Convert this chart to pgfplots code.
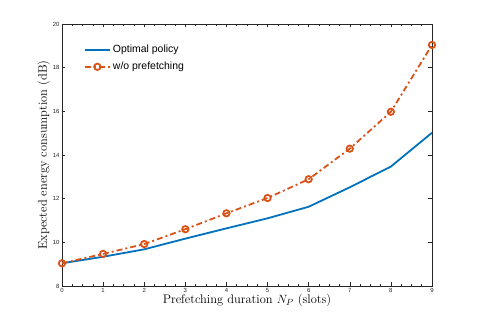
\documentclass[border=0pt]{standalone}
\usepackage{pgfplots}
\pgfplotsset{compat=1.18}
\usepackage{fontspec}
\setmainfont{Latin Modern Roman}
\newfontfamily\helv{Liberation Sans}
\definecolor{mblue}{rgb}{0,0.447,0.741}
\definecolor{morange}{rgb}{0.85,0.325,0.098}
\definecolor{axgray}{rgb}{0.15,0.15,0.15}
\begin{document}
\begin{tikzpicture}
\path[use as bounding box] (-62bp,-36bp) rectangle (416bp,286bp);
\begin{axis}[
    at={(0,0)}, anchor=origin,
    scale only axis,
    width=370bp, height=262bp,
    xmin=0, xmax=9, ymin=8, ymax=20,
    xtick={0,...,9}, ytick={8,10,...,20},
    minor x tick num=3,
    tick align=inside,
    major tick length=3.5bp, minor tick length=2bp,
    axis line style={axgray, line width=0.6pt},
    every tick/.style={axgray, line width=0.5pt},
    tick label style={font=\helv\fontsize{6}{7}\selectfont, text=axgray},
    /pgf/number format/assume math mode=true,
    xticklabel style={yshift=1bp},
    yticklabel style={xshift=1bp},
    xlabel={Prefetching duration $N_P$ (slots)},
    ylabel={Expected energy consumption (dB)},
    label style={font=\fontsize{12.5}{14}\selectfont},
    xlabel style={yshift=5bp},
    ylabel style={yshift=-4bp},
    legend style={draw=none, fill=none, at={(0.05,0.935)}, anchor=north west,
        font=\helv\fontsize{10.5}{12}\selectfont, row sep=4bp},
    legend cell align=left,
    legend image code/.code={
        \draw[#1] (0cm,0cm) -- (0.9cm,0cm);
        \draw[#1, only marks] plot coordinates {(0.45cm,0cm)};
    },
]
\addplot[mblue, line width=1.8pt] coordinates {
    (0,9.04) (1,9.34) (2,9.68) (3,10.17) (4,10.64) (5,11.10)
    (6,11.63) (7,12.52) (8,13.47) (9,15.02)
};
\addlegendentry{Optimal policy}
\addplot[morange, line width=1.8pt, dash pattern=on 6bp off 3bp on 2bp off 3bp,
    mark=o, mark size=3.2bp, mark options={solid, line width=1.8pt}] coordinates {
    (0,9.04) (1,9.47) (2,9.92) (3,10.60) (4,11.33) (5,12.03)
    (6,12.89) (7,14.29) (8,15.98) (9,19.04)
};
\addlegendentry{w/o prefetching}
\end{axis}
\end{tikzpicture}
\end{document}
